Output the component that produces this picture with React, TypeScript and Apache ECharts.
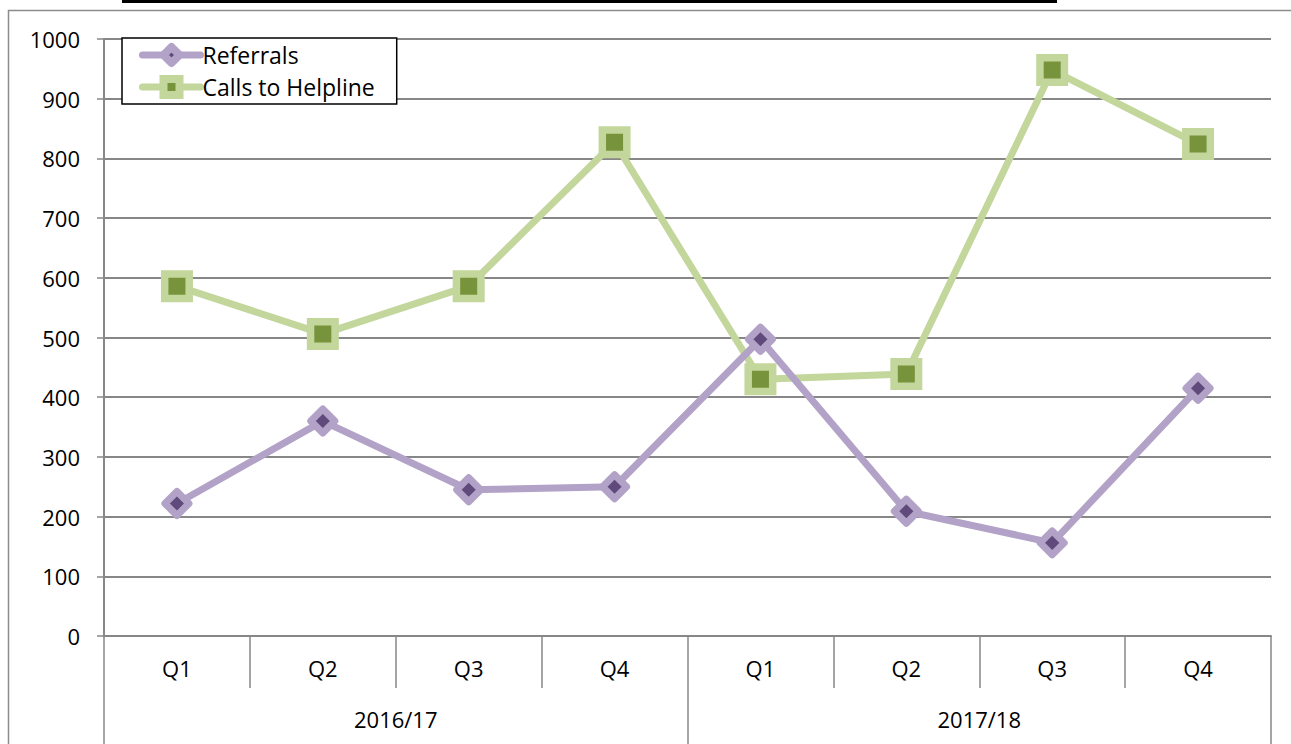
import React, { useEffect, useRef } from "react";
import * as echarts from "echarts";

// Quarter labels (two financial years) and the year band beneath them
const quarters = ["Q1", "Q2", "Q3", "Q4", "Q1", "Q2", "Q3", "Q4"];
const years = ["2016/17", "2017/18"];

// Quarterly counts
const referrals = [222, 360, 245, 250, 497, 209, 156, 415];
const helplineCalls = [586, 506, 586, 827, 430, 439, 948, 824];

const yTicks = { min: 0, max: 1000, interval: 100 };

const FONT = "'Open Sans', 'Noto Sans', sans-serif";
const AXIS_GREY = "#878787";
const FRAME_GREY = "#8c8c8c";

export default function App() {
  const ref = useRef<HTMLDivElement>(null);

  useEffect(() => {
    if (!ref.current) return;
    const chart = echarts.init(ref.current, undefined, { renderer: "svg" });

    chart.setOption({
      animation: false,
      backgroundColor: "#ffffff",
      textStyle: { fontFamily: FONT, color: "#000" },
      graphic: [
        {
          type: "rect",
          shape: { x: 122, y: 0, width: 935, height: 3 },
          style: { fill: "#000" },
          silent: true,
        },
        {
          type: "line",
          shape: { x1: 8, y1: 10.5, x2: 1291, y2: 10.5 },
          style: { stroke: FRAME_GREY, lineWidth: 1.5 },
          silent: true,
        },
        {
          type: "line",
          shape: { x1: 8.5, y1: 10, x2: 8.5, y2: 744 },
          style: { stroke: FRAME_GREY, lineWidth: 1.5 },
          silent: true,
        },
      ],
      legend: {
        left: 122,
        top: 38,
        orient: "vertical",
        padding: [2, 22, 2, 17],
        borderColor: "#000",
        borderWidth: 1.5,
        backgroundColor: "#fff",
        itemWidth: 58,
        itemHeight: 20,
        itemGap: 2,
        lineStyle: { width: 7, cap: "round" },
        itemStyle: { borderWidth: 8 },
        textStyle: {
          fontFamily: FONT,
          fontSize: 23,
          lineHeight: 30,
          color: "#000",
          padding: [0, 0, 0, -3],
        },
        data: ["Referrals", "Calls to Helpline"],
      },
      grid: { left: 104, right: 20, top: 39, bottom: 108, containLabel: false },
      xAxis: [
        {
          type: "category",
          data: quarters,
          position: "bottom",
          boundaryGap: true,
          axisLine: { show: true, lineStyle: { color: AXIS_GREY, width: 2 } },
          axisTick: { show: true, length: 52, lineStyle: { color: AXIS_GREY, width: 1.5 } },
          axisLabel: { fontFamily: FONT, fontSize: 22, color: "#000", margin: 21 },
          splitLine: { show: false },
        },
        {
          type: "category",
          data: years,
          position: "bottom",
          offset: 52,
          boundaryGap: true,
          axisLine: { show: false },
          axisTick: { show: true, length: 56, lineStyle: { color: AXIS_GREY, width: 1.5 } },
          axisLabel: { fontFamily: FONT, fontSize: 22, color: "#000", margin: 20 },
          splitLine: { show: false },
        },
      ],
      yAxis: {
        type: "value",
        min: yTicks.min,
        max: yTicks.max,
        interval: yTicks.interval,
        axisLine: { show: true, lineStyle: { color: AXIS_GREY, width: 2 } },
        axisTick: { show: true, length: 7, lineStyle: { color: AXIS_GREY, width: 1.5 } },
        axisLabel: {
          fontFamily: FONT,
          fontSize: 22,
          color: "#000",
          margin: 24,
          formatter: (v: number) => String(v),
        },
        splitLine: { show: true, lineStyle: { color: AXIS_GREY, width: 2 } },
      },
      series: [
        {
          name: "Referrals",
          type: "line",
          xAxisIndex: 0,
          data: referrals,
          symbol: "diamond",
          symbolSize: 24,
          lineStyle: { color: "#B3A2C7", width: 7 },
          itemStyle: {
            color: "#604A7B",
            borderColor: "#B3A2C7",
            borderWidth: 7,
            borderJoin: "round",
          },
          z: 3,
        },
        {
          name: "Calls to Helpline",
          type: "line",
          xAxisIndex: 0,
          data: helplineCalls,
          symbol: "rect",
          symbolSize: 24.5,
          lineStyle: { color: "#C3D69B", width: 7 },
          itemStyle: {
            color: "#77933C",
            borderColor: "#C3D69B",
            borderWidth: 7.5,
          },
          z: 2,
        },
      ],
    });

    return () => chart.dispose();
  }, []);

  return (
    <div
      ref={ref}
      style={{ position: "absolute", left: 0, top: 0, width: 1291, height: 744, overflow: "hidden" }}
    />
  );
}
